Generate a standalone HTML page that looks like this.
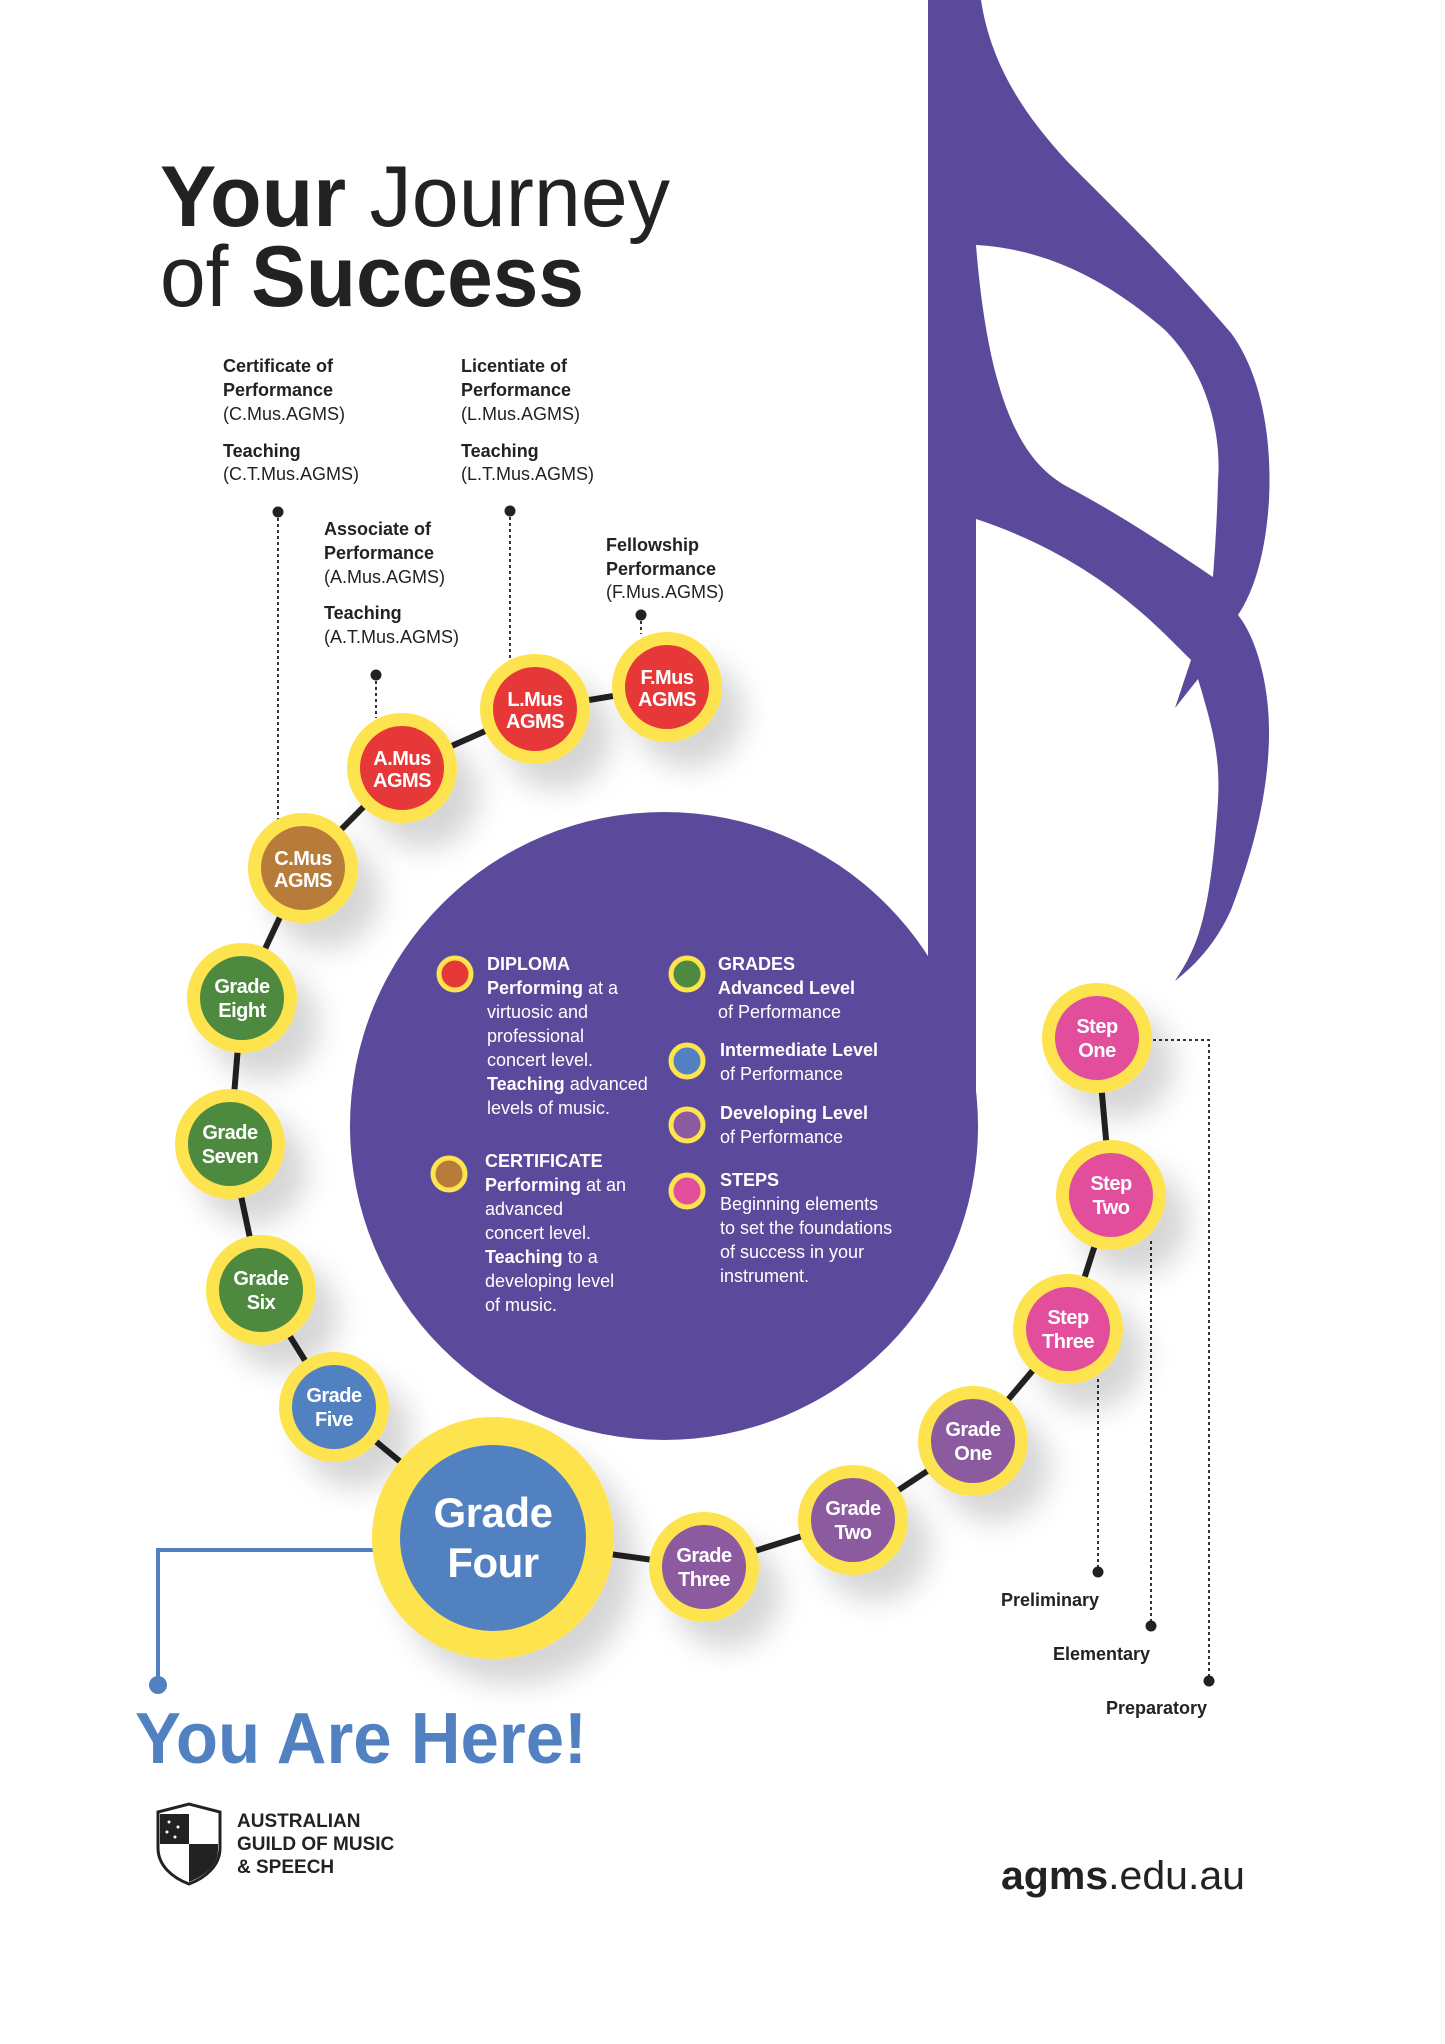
<!DOCTYPE html>
<html><head><meta charset="utf-8"><style>
html,body{margin:0;padding:0;background:#fff;}
svg{display:block;}
text{font-family:"Liberation Sans",Arial,sans-serif;}
</style></head><body>
<svg width="1445" height="2044" viewBox="0 0 1445 2044" xmlns="http://www.w3.org/2000/svg">
<defs>
<filter id="sh" x="-50%" y="-50%" width="250%" height="250%">
<feDropShadow dx="22" dy="26" stdDeviation="14" flood-color="#000" flood-opacity="0.16"/>
</filter>
</defs>
<rect width="1445" height="2044" fill="#fff"/>

<!-- Note -->
<g fill="#5b4a9b">
<circle cx="664" cy="1126" r="314"/>
<path d="M928,0 L981,0 C990,60 1020,110 1066,160 C1110,205 1165,256 1231,333 C1262,375 1272,440 1269,500 C1266,550 1255,590 1238,615 C1258,640 1270,690 1269,737 C1268,800 1250,860 1231,910 C1215,945 1195,965 1175,981 C1195,950 1210,925 1218,801 C1220,760 1215,735 1198,679 L1175,708 L1191,660 C1160,630 1100,560 976,519 L976,1126 L928,1126 Z"/>
</g>
<path fill="#fff" d="M976,245 C1066,250 1130,300 1165,330 C1205,370 1222,430 1218,481 C1217,520 1215,550 1213,577 C1180,555 1130,520 1066,486 C1030,465 990,420 976,245 Z"/>

<!-- connector path -->
<polyline fill="none" stroke="#222" stroke-width="6" points="667,687 535,709 402,768 303,868 242,998 230,1144 261,1290 334,1407 493,1538 704,1567 853,1520 973,1441 1068,1329 1111,1195 1097,1038"/>

<!-- dotted leaders -->
<g stroke="#333" stroke-width="2" stroke-dasharray="3,3" fill="none">
<line x1="278" y1="512" x2="278" y2="821"/>
<line x1="376" y1="675" x2="376" y2="718"/>
<line x1="510" y1="511" x2="510" y2="660"/>
<line x1="641" y1="615" x2="641" y2="634"/>
<polyline points="1153,1040 1209,1040 1209,1681"/>
<line x1="1151" y1="1241" x2="1151" y2="1626"/>
<line x1="1098" y1="1379" x2="1098" y2="1572"/>
</g>
<g fill="#222">
<circle cx="278" cy="512" r="5.5"/><circle cx="376" cy="675" r="5.5"/><circle cx="510" cy="511" r="5.5"/><circle cx="641" cy="615" r="5.5"/>
<circle cx="1209" cy="1681" r="5.5"/><circle cx="1151" cy="1626" r="5.5"/><circle cx="1098" cy="1572" r="5.5"/>
</g>

<!-- You are here connector -->
<polyline points="374,1550 158,1550 158,1685" fill="none" stroke="#5181c1" stroke-width="4"/>
<circle cx="158" cy="1685" r="9" fill="#5181c1"/>

<!-- nodes -->
<g filter="url(#sh)" fill="#fde34e">
<circle cx="667" cy="687" r="55"/><circle cx="535" cy="709" r="55"/><circle cx="402" cy="768" r="55"/><circle cx="303" cy="868" r="55"/>
<circle cx="242" cy="998" r="55"/><circle cx="230" cy="1144" r="55"/><circle cx="261" cy="1290" r="55"/><circle cx="334" cy="1407" r="55"/>
<circle cx="493" cy="1538" r="121"/><circle cx="704" cy="1567" r="55"/><circle cx="853" cy="1520" r="55"/><circle cx="973" cy="1441" r="55"/>
<circle cx="1068" cy="1329" r="55"/><circle cx="1111" cy="1195" r="55"/><circle cx="1097" cy="1038" r="55"/>
</g>
<circle cx="667" cy="687" r="42" fill="#e63838"/><circle cx="535" cy="709" r="42" fill="#e63838"/><circle cx="402" cy="768" r="42" fill="#e63838"/>
<circle cx="303" cy="868" r="42" fill="#b87c3a"/>
<circle cx="242" cy="998" r="42" fill="#4d8a3f"/><circle cx="230" cy="1144" r="42" fill="#4d8a3f"/><circle cx="261" cy="1290" r="42" fill="#4d8a3f"/>
<circle cx="334" cy="1407" r="42" fill="#5181c1"/><circle cx="493" cy="1538" r="93" fill="#5181c1"/>
<circle cx="704" cy="1567" r="42" fill="#8b5a9f"/><circle cx="853" cy="1520" r="42" fill="#8b5a9f"/><circle cx="973" cy="1441" r="42" fill="#8b5a9f"/>
<circle cx="1068" cy="1329" r="42" fill="#e24d9c"/><circle cx="1111" cy="1195" r="42" fill="#e24d9c"/><circle cx="1097" cy="1038" r="42" fill="#e24d9c"/>

<g fill="#fff" font-weight="bold" font-size="20" text-anchor="middle" letter-spacing="-0.5">
<text x="667" y="684">F.Mus<tspan x="667" dy="22">AGMS</tspan></text>
<text x="535" y="706">L.Mus<tspan x="535" dy="22">AGMS</tspan></text>
<text x="402" y="765">A.Mus<tspan x="402" dy="22">AGMS</tspan></text>
<text x="303" y="865">C.Mus<tspan x="303" dy="22">AGMS</tspan></text>
<text x="242" y="993">Grade<tspan x="242" dy="24">Eight</tspan></text>
<text x="230" y="1139">Grade<tspan x="230" dy="24">Seven</tspan></text>
<text x="261" y="1285">Grade<tspan x="261" dy="24">Six</tspan></text>
<text x="334" y="1402">Grade<tspan x="334" dy="24">Five</tspan></text>
<text x="704" y="1562">Grade<tspan x="704" dy="24">Three</tspan></text>
<text x="853" y="1515">Grade<tspan x="853" dy="24">Two</tspan></text>
<text x="973" y="1436">Grade<tspan x="973" dy="24">One</tspan></text>
<text x="1068" y="1324">Step<tspan x="1068" dy="24">Three</tspan></text>
<text x="1111" y="1190">Step<tspan x="1111" dy="24">Two</tspan></text>
<text x="1097" y="1033">Step<tspan x="1097" dy="24">One</tspan></text>
<text x="493" y="1527" font-size="42">Grade<tspan x="493" dy="50">Four</tspan></text>
</g>

<!-- Title -->
<text x="160" y="226" font-size="86" fill="#222" textLength="510" lengthAdjust="spacingAndGlyphs"><tspan font-weight="bold">Your</tspan> Journey</text>
<text x="160" y="306" font-size="86" fill="#222" textLength="424" lengthAdjust="spacingAndGlyphs">of <tspan font-weight="bold">Success</tspan></text>

<!-- top labels -->
<g font-size="18" fill="#222">
<text x="223" y="372"><tspan font-weight="bold">Certificate of</tspan><tspan x="223" dy="24" font-weight="bold">Performance</tspan><tspan x="223" dy="24">(C.Mus.AGMS)</tspan><tspan x="223" dy="37" font-weight="bold">Teaching</tspan><tspan x="223" dy="23">(C.T.Mus.AGMS)</tspan></text>
<text x="461" y="372"><tspan font-weight="bold">Licentiate of</tspan><tspan x="461" dy="24" font-weight="bold">Performance</tspan><tspan x="461" dy="24">(L.Mus.AGMS)</tspan><tspan x="461" dy="37" font-weight="bold">Teaching</tspan><tspan x="461" dy="23">(L.T.Mus.AGMS)</tspan></text>
<text x="324" y="535"><tspan font-weight="bold">Associate of</tspan><tspan x="324" dy="24" font-weight="bold">Performance</tspan><tspan x="324" dy="24">(A.Mus.AGMS)</tspan><tspan x="324" dy="36" font-weight="bold">Teaching</tspan><tspan x="324" dy="24">(A.T.Mus.AGMS)</tspan></text>
<text x="606" y="551"><tspan font-weight="bold">Fellowship</tspan><tspan x="606" dy="24" font-weight="bold">Performance</tspan><tspan x="606" dy="23">(F.Mus.AGMS)</tspan></text>
</g>

<!-- legend -->
<g stroke="#fde34e" stroke-width="5">
<circle cx="455" cy="974" r="16" fill="#e63838"/>
<circle cx="449" cy="1174" r="16" fill="#b87c3a"/>
<circle cx="687" cy="974" r="16" fill="#4d8a3f"/>
<circle cx="687" cy="1061" r="16" fill="#5181c1"/>
<circle cx="687" cy="1125" r="16" fill="#8b5a9f"/>
<circle cx="687" cy="1191" r="16" fill="#e24d9c"/>
</g>
<g font-size="18" fill="#fff">
<text x="487" y="970"><tspan font-weight="bold">DIPLOMA</tspan><tspan x="487" dy="24"><tspan font-weight="bold">Performing</tspan> at a</tspan><tspan x="487" dy="24">virtuosic and</tspan><tspan x="487" dy="24">professional</tspan><tspan x="487" dy="24">concert level.</tspan><tspan x="487" dy="24"><tspan font-weight="bold">Teaching</tspan> advanced</tspan><tspan x="487" dy="24">levels of music.</tspan></text>
<text x="485" y="1167"><tspan font-weight="bold">CERTIFICATE</tspan><tspan x="485" dy="24"><tspan font-weight="bold">Performing</tspan> at an</tspan><tspan x="485" dy="24">advanced</tspan><tspan x="485" dy="24">concert level.</tspan><tspan x="485" dy="24"><tspan font-weight="bold">Teaching</tspan> to a</tspan><tspan x="485" dy="24">developing level</tspan><tspan x="485" dy="24">of music.</tspan></text>
<text x="718" y="970"><tspan font-weight="bold">GRADES</tspan><tspan x="718" dy="24" font-weight="bold">Advanced Level</tspan><tspan x="718" dy="24">of Performance</tspan></text>
<text x="720" y="1056"><tspan font-weight="bold">Intermediate Level</tspan><tspan x="720" dy="24">of Performance</tspan></text>
<text x="720" y="1119"><tspan font-weight="bold">Developing Level</tspan><tspan x="720" dy="24">of Performance</tspan></text>
<text x="720" y="1186"><tspan font-weight="bold">STEPS</tspan><tspan x="720" dy="24">Beginning elements</tspan><tspan x="720" dy="24">to set the foundations</tspan><tspan x="720" dy="24">of success in your</tspan><tspan x="720" dy="24">instrument.</tspan></text>
</g>

<!-- step labels -->
<g font-size="18" font-weight="bold" fill="#222">
<text x="1001" y="1606">Preliminary</text>
<text x="1053" y="1660">Elementary</text>
<text x="1106" y="1714">Preparatory</text>
</g>

<!-- You Are Here -->
<text x="135" y="1763" font-size="72" font-weight="bold" fill="#5181c1" textLength="452" lengthAdjust="spacingAndGlyphs">You Are Here!</text>

<!-- logo -->
<path d="M158,1812 L189,1804 L220,1812 L220,1848 C220,1866 205,1878 189,1884 C173,1878 158,1866 158,1848 Z" fill="#fff" stroke="#222" stroke-width="3"/>
<rect x="160" y="1814" width="29" height="30" fill="#222"/>
<path d="M189,1844 L218,1844 L218,1850 C218,1866 204,1876 189,1882 Z" fill="#222"/>
<g fill="#fff"><circle cx="169" cy="1822" r="1.5"/><circle cx="178" cy="1827" r="1.5"/><circle cx="167" cy="1832" r="1.5"/><circle cx="175" cy="1837" r="1.5"/></g>
<g font-size="19" font-weight="bold" fill="#222">
<text x="237" y="1827">AUSTRALIAN</text>
<text x="237" y="1850">GUILD OF MUSIC</text>
<text x="237" y="1873">&amp; SPEECH</text>
</g>
<text x="1001" y="1889" font-size="40" fill="#222" textLength="244" lengthAdjust="spacingAndGlyphs"><tspan font-weight="bold">agms</tspan>.edu.au</text>
</svg>
</body></html>
